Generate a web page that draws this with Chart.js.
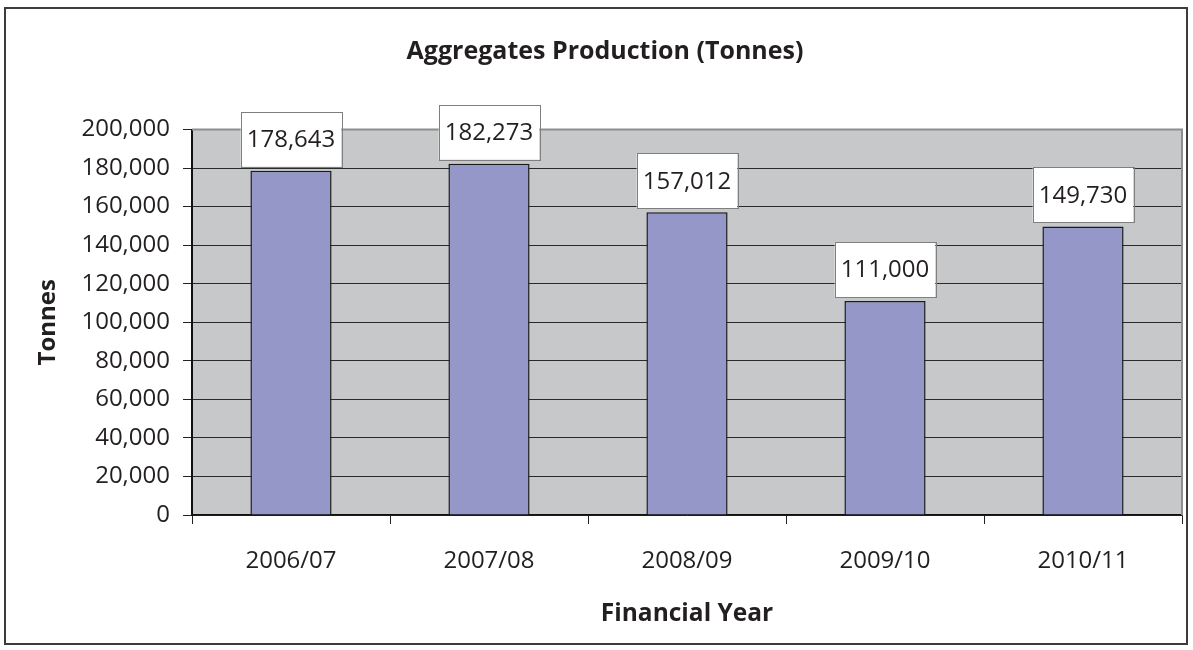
<!DOCTYPE html>
<html>
<head>
<meta charset="utf-8">
<title>Aggregates Production (Tonnes)</title>
<script src="https://cdn.jsdelivr.net/npm/chart.js@4/dist/chart.umd.min.js"></script>
<style>
  html, body { margin: 0; padding: 0; background: #ffffff; }
  #wrap { width: 1193px; height: 650px; position: relative; }
  canvas { display: block; }
</style>
</head>
<body>
<div id="wrap"><canvas id="chart" width="1193" height="650"></canvas></div>
<script>
// Aggregates production by financial year
const years = ['2006/07', '2007/08', '2008/09', '2009/10', '2010/11'];
const tonnes = [178643, 182273, 157012, 111000, 149730];
const yTicks = [0, 20000, 40000, 60000, 80000, 100000, 120000, 140000, 160000, 180000, 200000];

const chartTitle = 'Aggregates Production (Tonnes)';
const xTitle = 'Financial Year';
const yTitle = 'Tonnes';

const FONT = '"Open Sans", "Noto Sans", sans-serif';
const TEXT = '#231f20';

const fmt = v => Number(v).toLocaleString('en-US');

// grey plot background plus the outer frame of the whole chart
const frame = {
  id: 'frame',
  beforeDraw(chart) {
    const { ctx, chartArea: a } = chart;
    ctx.save();
    ctx.fillStyle = '#ffffff';
    ctx.fillRect(0, 0, chart.width, chart.height);
    ctx.fillStyle = '#c7c8ca';
    ctx.fillRect(a.left, a.top, a.right - a.left, a.bottom - a.top);
    ctx.strokeStyle = '#3c3c3c';
    ctx.lineWidth = 2;
    ctx.strokeRect(5, 8, 1182, 636);
    ctx.restore();
  },
  beforeDatasetsDraw(chart) {
    const { ctx, chartArea: a } = chart;
    ctx.save();
    ctx.strokeStyle = '#8e8e8e';
    ctx.lineWidth = 2;
    ctx.beginPath();
    ctx.moveTo(a.left, a.top);
    ctx.lineTo(a.right, a.top);
    ctx.lineTo(a.right, a.bottom);
    ctx.stroke();
    ctx.restore();
  }
};

// boxed value labels above each bar
const valueBoxes = {
  id: 'valueBoxes',
  afterDatasetsDraw(chart) {
    const { ctx } = chart;
    const meta = chart.getDatasetMeta(0);
    const data = chart.data.datasets[0].data;
    ctx.save();
    ctx.font = '24px ' + FONT;
    ctx.textAlign = 'center';
    ctx.textBaseline = 'middle';
    meta.data.forEach((bar, i) => {
      const label = fmt(data[i]);
      const w = ctx.measureText(label).width + 12;
      const h = 55;
      const x = bar.x - w / 2;
      const y = bar.y - 4 - h;
      ctx.fillStyle = '#ffffff';
      ctx.fillRect(x, y, w, h);
      ctx.strokeStyle = '#7f7f7f';
      ctx.lineWidth = 1;
      ctx.strokeRect(Math.round(x) + 0.5, Math.round(y) + 0.5, Math.round(w), Math.round(h));
      ctx.fillStyle = TEXT;
      ctx.fillText(label, bar.x, y + h / 2 + 1);
    });
    ctx.restore();
  }
};

new Chart(document.getElementById('chart'), {
  type: 'bar',
  data: {
    labels: years,
    datasets: [{
      label: yTitle,
      data: tonnes,
      backgroundColor: '#9597c9',
      borderColor: '#1a1a1a',
      borderWidth: 1.5,
      barPercentage: 0.41,
      categoryPercentage: 1
    }]
  },
  options: {
    responsive: false,
    animation: false,
    devicePixelRatio: 1,
    layout: { padding: { left: 28, right: 11, top: 0, bottom: 0 } },
    plugins: {
      legend: { display: false },
      tooltip: { enabled: false },
      title: {
        display: true,
        text: chartTitle,
        color: TEXT,
        font: { family: FONT, size: 25, weight: 'bold' },
        padding: { top: 37, bottom: 62.5 }
      }
    },
    scales: {
      x: {
        grid: { offset: true, drawOnChartArea: false, tickLength: 9, color: '#222', lineWidth: 1 },
        border: { color: '#111', width: 1.5 },
        ticks: { color: TEXT, font: { family: FONT, size: 24 }, padding: 23 },
        title: {
          display: true, text: xTitle, color: TEXT,
          font: { family: FONT, size: 24.5, weight: 'bold' },
          padding: { top: 0, bottom: 21 }
        },
        afterFit(scale) { scale.height = 135; }
      },
      y: {
        min: 0,
        max: 200000,
        afterBuildTicks(scale) { scale.ticks = yTicks.map(v => ({ value: v })); },
        grid: {
          tickLength: 9,
          tickColor: '#222',
          lineWidth: 1,
          color: c => (c.tick && c.tick.value === 200000 ? '#8e8e8e' : '#2a2a2a')
        },
        border: { color: '#111', width: 2 },
        ticks: { color: TEXT, font: { family: FONT, size: 24 }, padding: 13, callback: v => fmt(v) },
        title: {
          display: true, text: yTitle, color: TEXT,
          font: { family: FONT, size: 24, weight: 'bold' },
          padding: { top: 6, bottom: 0 }
        },
        afterFit(scale) { scale.width = 164; }
      }
    }
  },
  plugins: [frame, valueBoxes]
});
</script>
</body>
</html>
